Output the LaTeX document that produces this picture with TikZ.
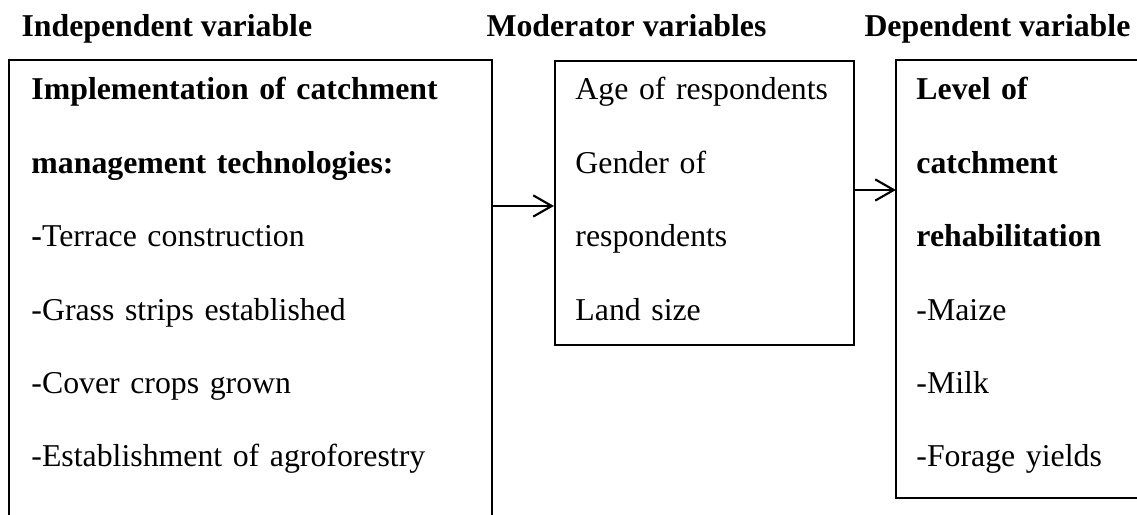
\documentclass[tikz,border=0pt]{standalone}
\usepackage{fontspec}
\setmainfont{Liberation Serif}
\usetikzlibrary{arrows.meta,positioning,fit}

\begin{document}
\begin{tikzpicture}[
  x=0.3774pt, y=0.3774pt,
  font=\fontsize{12pt}{27.7pt}\selectfont,
  %% ─── styles ─────────────────────────────────────────────
  heading/.style={
    anchor=base west, inner sep=0pt,
    font=\fontsize{12pt}{14pt}\selectfont\bfseries},
  frame/.style={inner sep=0pt, line width=0.8pt},
  boxtext/.style={
    anchor=base west, inner sep=0pt,
    text width=6.5cm, align=left},
  border/.style={line width=0.8pt},
  arr/.style={-{Straight Barb[length=7pt,width=8pt]}, line width=0.8pt}
]
  \useasboundingbox (0,0) rectangle (1137,-515);

  %% ════════════════════════════════════════════════════════
  %%  column headings
  %% ════════════════════════════════════════════════════════
  \node[heading] (ivhead) at (21,-37) {Independent variable};
  \node[heading] (mvhead) at (486,-37) {Moderator variables};
  \node[heading] (dvhead) at (864,-37) {Dependent variable};

  %% ════════════════════════════════════════════════════════
  %%  frames
  %% ════════════════════════════════════════════════════════
  \coordinate (ivtl) at (10,-61);   \coordinate (ivbr) at (491,-515);
  \coordinate (mvtl) at (555,-61);  \coordinate (mvbr) at (854,-345);
  \coordinate (dvtl) at (897,-61);  \coordinate (dvbr) at (1137,-497);

  \node[frame, fit=(ivtl) (ivbr)] (iv) {};
  \node[frame, draw, fit=(mvtl) (mvbr)] (mv) {};
  \node[frame, fit=(dvtl) (dvbr)] (dv) {};

  % open frames (cut by the page edge)
  \draw[border] (iv.south west) |- (iv.north east) -- (iv.south east);
  \draw[border] (dv.north east) -- (dv.north west) |- (dv.south east);

  %% ── box contents ────────────────────────────────────────
  \node[boxtext] (ivtext) at ([shift={(22,-40)}]iv.north west)
    {\textbf{Implementation of catchment}\\
     \textbf{management technologies:}\\
     \textbf{-}Terrace construction\\
     -Grass strips established\\
     -Cover crops grown\\
     -Establishment of agroforestry};

  \node[boxtext] (mvtext) at ([shift={(21,-40)}]mv.north west)
    {Age of respondents\\
     Gender of\\
     respondents\\
     Land size};

  \node[boxtext] (dvtext) at ([shift={(20,-40)}]dv.north west)
    {\textbf{Level of}\\
     \textbf{catchment}\\
     \textbf{rehabilitation}\\
     -Maize\\
     -Milk\\
     -Forage yields};

  %% ════════════════════════════════════════════════════════
  %%  links
  %% ════════════════════════════════════════════════════════
  \coordinate (linkA) at (0,-206);
  \coordinate (linkB) at (0,-190);
  \draw[arr] (iv.east |- linkA) -- (mv.west |- linkA);
  \draw[arr] (mv.east |- linkB) -- (dv.west |- linkB);

\end{tikzpicture}
\end{document}
